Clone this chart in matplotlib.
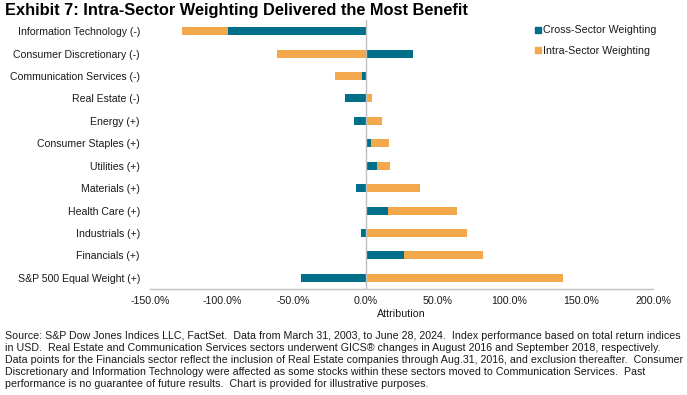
import matplotlib
matplotlib.use("Agg")
import matplotlib.pyplot as plt
from matplotlib.lines import Line2D
import numpy as np

categories = ["Information Technology (-)", "Consumer Discretionary (-)", "Communication Services (-)",
              "Real Estate (-)", "Energy (+)", "Consumer Staples (+)", "Utilities (+)", "Materials (+)",
              "Health Care (+)", "Industrials (+)", "Financials (+)", "S&P 500 Equal Weight (+)"]
cross_sector = [-95.9, 33.1, -2.8, -14.6, -8.1, 3.5, 8.1, -6.7, 15.8, -3.2, 26.6, -44.7]
intra_sector = [-31.5, -61.9, -18.8, 4.4, 11.3, 13.0, 9.0, 38.2, 47.9, 70.4, 55.4, 137.4]
xticks = [-150, -100, -50, 0, 50, 100, 150, 200]

TEAL = "#006F89"
ORANGE = "#F3A84C"
TXT = "#1a1a1a"

plt.rcParams['font.family'] = ['Liberation Sans', 'DejaVu Sans']

fig = plt.figure(figsize=(6.87, 3.95), dpi=100)
ax = fig.add_axes([150/687, 1-289/395, (653-150)/687, (289-20)/395])

y = np.arange(len(categories))
cross = np.array(cross_sector)
intra = np.array(intra_sector)
h = 0.36
ax.barh(y, cross, height=h, color=TEAL, zorder=2)
# stacking: positive on positive, negative on negative
left_intra = np.where(np.sign(intra) == np.sign(cross), cross, 0)
ax.barh(y, intra, left=left_intra, height=h, color=ORANGE, zorder=2)

ax.set_ylim(len(categories)-0.5, -0.5)
ax.set_xlim(-150, 200)
ax.set_yticks(y)
ax.set_yticklabels(categories, fontsize=7.6, color=TXT)
ax.set_xticks(xticks)
ax.set_xticklabels([f"{v:.1f}%" for v in xticks], fontsize=7.7, color=TXT)
ax.tick_params(axis='y', length=0, pad=7.2)
ax.tick_params(axis='x', length=0, pad=5)
for s in ['top', 'right', 'left']:
    ax.spines[s].set_visible(False)
ax.spines['bottom'].set_color('#BFBFBF')
ax.spines['bottom'].set_linewidth(1.0)
ax.axvline(0, color='#BFBFBF', lw=1.0, zorder=3)
ax.set_xlabel("Attribution", fontsize=7.7, color=TXT, labelpad=2)

handles = [Line2D([], [], marker='s', ls='none', color=TEAL, markersize=5),
           Line2D([], [], marker='s', ls='none', color=ORANGE, markersize=5)]
fig.legend(handles, ["Cross-Sector Weighting", "Intra-Sector Weighting"],
           loc='upper left', bbox_to_anchor=(528/687, 1-20/395), frameon=False,
           fontsize=7.7, handletextpad=0.1, labelspacing=0.95, borderpad=0, handlelength=0.8,
           labelcolor=TXT)

fig.text(5/687, 1-10.5/395, "Exhibit 7: Intra-Sector Weighting Delivered the Most Benefit",
         fontsize=11.75, fontweight='bold', color='black', va='center', ha='left')

foot = ("Source: S&P Dow Jones Indices LLC, FactSet.  Data from March 31, 2003, to June 28, 2024.  Index performance based on total return indices\n"
        "in USD.  Real Estate and Communication Services sectors underwent GICS\u00ae changes in August 2016 and September 2018, respectively.\n"
        "Data points for the Financials sector reflect the inclusion of Real Estate companies through Aug.31, 2016, and exclusion thereafter.  Consumer\n"
        "Discretionary and Information Technology were affected as some stocks within these sectors moved to Communication Services.  Past\n"
        "performance is no guarantee of future results.  Chart is provided for illustrative purposes.")
fig.text(5/687, 1-331/395, foot, fontsize=7.7, color=TXT, va='top', ha='left', linespacing=1.25)

fig.savefig("out.png", dpi=100)
